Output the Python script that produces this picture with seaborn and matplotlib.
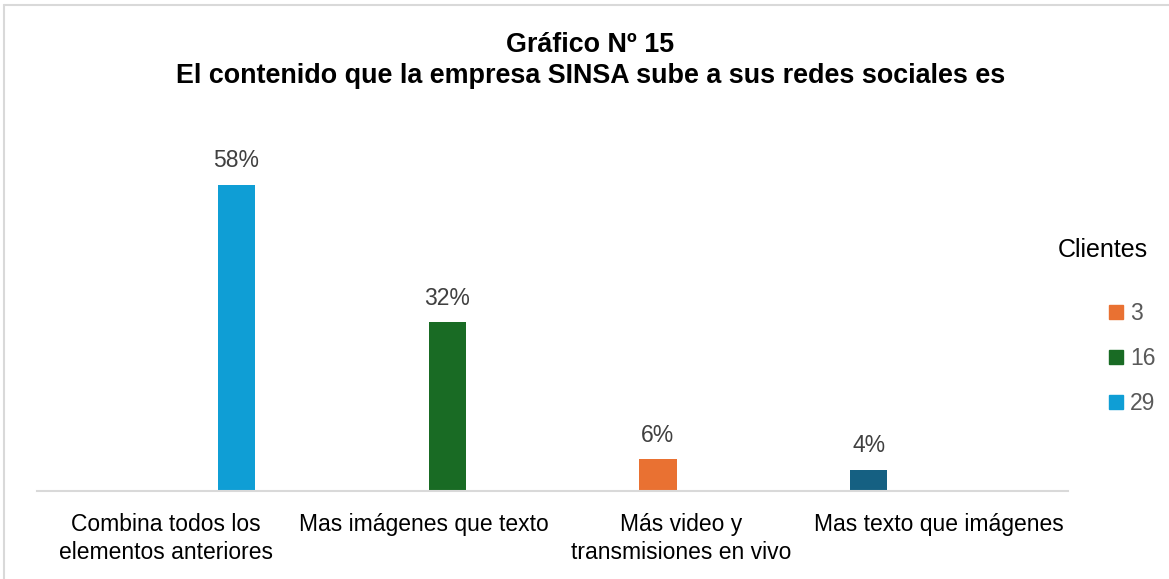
import pandas as pd
import matplotlib.pyplot as plt
import seaborn as sns
from matplotlib.lines import Line2D


# Datos del gráfico
categorias = ['Combina todos los\nelementos anteriores', 'Mas imágenes que texto',
              'Más video y\ntransmisiones en vivo', 'Mas texto que imágenes']
porcentajes = [58, 32, 6, 4]
clientes = [29, 16, 3, 2]

orden_clientes = [2, 3, 16, 29]
colores = {2: '#156082', 3: '#E97132', 16: '#196B24', 29: '#0F9ED5'}
leyenda_clientes = [3, 16, 29]

df = pd.DataFrame({'Categoria': categorias, 'Porcentaje': porcentajes, 'Clientes': clientes})

sns.set_style('white')
plt.rcParams['font.family'] = ['Liberation Sans', 'DejaVu Sans']
plt.rcParams['text.color'] = 'black'

fig = plt.figure(figsize=(11.69, 5.79), dpi=100)
ax = fig.add_axes([0.0317, 0.152, 0.882, 0.641])

sns.barplot(data=df, x='Categoria', y='Porcentaje', hue='Clientes', hue_order=orden_clientes,
            palette=colores, order=categorias, width=0.73, gap=0.21, dodge=True,
            saturation=1, linewidth=0, edgecolor='none', legend=False, ax=ax)

# Etiquetas de porcentaje sobre las barras
for cont in ax.containers:
    ax.bar_label(cont, fmt='%.0f%%', padding=9, fontsize=16.5, color='#404040')

ax.set_ylim(0, 70.3)
ax.set_xlabel('')
ax.set_ylabel('')
ax.set_yticks([])
for lado in ['top', 'right', 'left']:
    ax.spines[lado].set_visible(False)
ax.spines['bottom'].set_color('#D9D9D9')
ax.spines['bottom'].set_linewidth(1.5)
ax.tick_params(axis='x', length=0, pad=16, labelsize=16.5, labelcolor='#000000')
for lbl in ax.get_xticklabels():
    lbl.set_linespacing(1.25)

# Título
fig.text(0.505, 0.922, 'Gráfico Nº 15', ha='center', va='center', fontsize=19.4,
         fontweight='bold', color='black')
fig.text(0.505, 0.869, 'El contenido que la empresa SINSA sube a sus redes sociales es',
         ha='center', va='center', fontsize=19.4, fontweight='bold', color='black')

# Leyenda
fig.text(0.9435, 0.569, 'Clientes', ha='center', va='center', fontsize=18, color='black')
handles = [Line2D([0], [0], marker='s', linestyle='', markersize=9.5,
                  markerfacecolor=colores[c], markeredgecolor=colores[c]) for c in leyenda_clientes]
leg = fig.legend(handles, [str(c) for c in leyenda_clientes], loc='upper left',
                 bbox_to_anchor=(0.940, 0.494), frameon=False, fontsize=16.5,
                 handlelength=0.7, handletextpad=0.25, labelspacing=0.96, borderaxespad=0)
for t in leg.get_texts():
    t.set_color('#595959')

# Borde del gráfico
fig.add_artist(Line2D([0.003, 0.003], [0, 0.991], color='#D9D9D9', lw=1.5, transform=fig.transFigure))
fig.add_artist(Line2D([0.003, 1], [0.991, 0.991], color='#D9D9D9', lw=1.5, transform=fig.transFigure))

fig.savefig('out.png', dpi=100)
